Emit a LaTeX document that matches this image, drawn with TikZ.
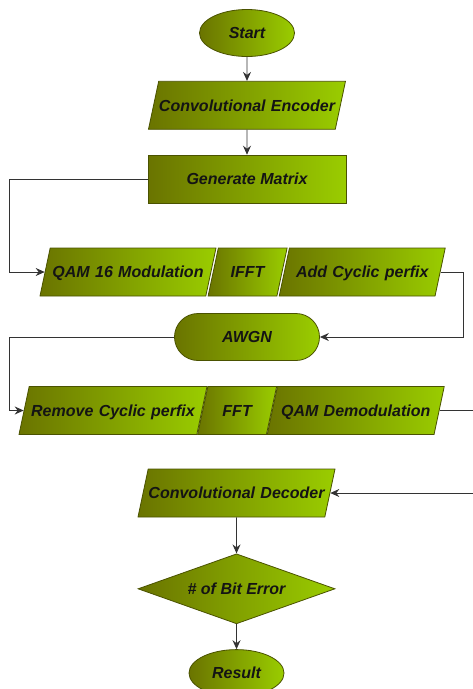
\documentclass[tikz,border=0pt]{standalone}
\usepackage{fontspec}
\newfontfamily\flowfont{Liberation Sans}
\usetikzlibrary{positioning, arrows.meta, shapes.geometric, shapes.misc}
\definecolor{olivedark}{HTML}{6A7400}
\definecolor{olivelight}{HTML}{9ACD00}
\definecolor{oliveedge}{HTML}{4A5200}
\definecolor{linegray}{HTML}{333333}

\begin{document}
\begin{tikzpicture}[x=1pt, y=-1pt,
    >={Stealth[length=9pt, width=8pt, inset=3pt]},
    shaded/.style={draw=oliveedge, line width=.8pt, left color=olivedark, right color=olivelight, text=black!92, font=\flowfont\bfseries\itshape\fontsize{16}{18}\selectfont, inner sep=1pt},
    terminal/.style={shaded, ellipse, minimum width=95pt, minimum height=47pt},
    iobox/.style={shaded, trapezium, trapezium left angle=78, trapezium right angle=102, inner sep=0pt, text height=29.7pt, text depth=18.3pt, text width=#1, align=center},
    procbox/.style={shaded, rectangle, minimum width=198pt, minimum height=48pt},
    channel/.style={shaded, rounded rectangle, minimum width=147pt, minimum height=47pt},
    decision/.style={shaded, diamond, aspect=2.8, minimum width=197pt, minimum height=70pt, inner sep=0pt},
    link/.style={linegray, line width=.9pt}]
    \useasboundingbox (0, 0) rectangle (473, 689);

    \node (start) [terminal] at (247, 33) {Start};
    \node (enc) [iobox=176.6pt, below=24pt of start] {Convolutional Encoder};
    \node (gen) [procbox, below=25pt of enc] {Generate Matrix};

    \node (qam) [iobox=155.6pt] at (128, 272) {QAM 16 Modulation};
    \node (ifft) [iobox=58.6pt, anchor=bottom left corner, xshift=1.5pt] at (qam.bottom right corner) {IFFT};
    \node (add) [iobox=145.6pt, anchor=bottom left corner, xshift=1.5pt] at (ifft.bottom right corner) {Add Cyclic perfix};

    \node (awgn) [channel] at (247, 337) {AWGN};

    \node (rem) [iobox=167.6pt] at (113, 410.5) {Remove Cyclic perfix};
    \node (fft) [iobox=58.6pt, anchor=bottom left corner] at (rem.bottom right corner) {FFT};
    \node (demod) [iobox=156.6pt, anchor=bottom left corner] at (fft.bottom right corner) {QAM Demodulation};

    \node (dec) [iobox=176.6pt] at (236.5, 493) {Convolutional Decoder};
    \node (err) [decision, below=36pt of dec] {\# of Bit Error};
    \node (res) [terminal, below=25pt of err] {Result};

    % turning points of the side connectors
    \coordinate (lx) at (9, 0);
    \coordinate (rx) at (463, 0);
    \coordinate (ox) at (477, 0);

    \draw [->, link] (start) -- (enc);
    \draw [->, link] (enc) -- (gen);
    \draw [->, link] (gen.west) -- (gen.west -| lx) |- (qam.west);
    \draw [->, link] (add.east) -- (add.east -| rx) |- (awgn.east);
    \draw [->, link] (awgn.west) -- (awgn.west -| lx) |- (rem.west);
    \draw [->, link] (demod.east) -- (demod.east -| ox) |- (dec.east);
    \draw [->, link] (dec) -- (err);
    \draw [->, link] (err) -- (res);
\end{tikzpicture}
\end{document}
